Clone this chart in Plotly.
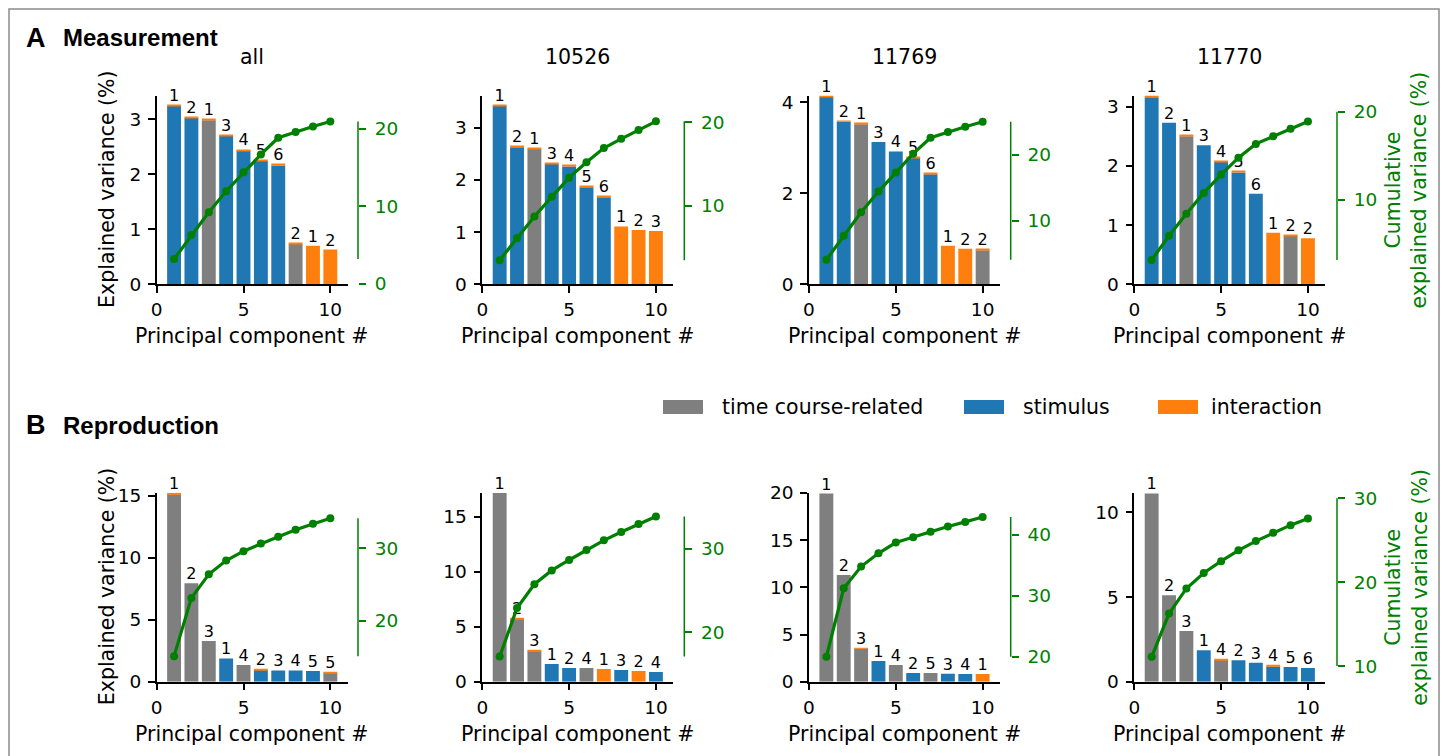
import plotly.graph_objects as go

# ---------------- data ----------------
pcs = [1, 2, 3, 4, 5, 6, 7, 8, 9, 10]
panel_titles = ["all", "10526", "11769", "11770", "", "", "", ""]
x_ticks = [0, 5, 10]

# Row A: Measurement
a_all_var = [3.26, 3.04, 3.00, 2.72, 2.45, 2.26, 2.18, 0.75, 0.70, 0.63]
a_all_kind = ["s", "s", "t", "s", "s", "s", "s", "t", "i", "i"]
a_all_lab = ["1", "2", "1", "3", "4", "5", "6", "2", "1", "2"]
a_all_top = [1, 1, 1, 1, 1, 1, 1, 1, 0, 0]
a_all_cum = [3.2, 6.3, 9.25, 11.95, 14.4, 16.7, 18.85, 19.6, 20.3, 20.95]

a_10526_var = [3.44, 2.65, 2.62, 2.33, 2.28, 1.88, 1.69, 1.11, 1.04, 1.02]
a_10526_kind = ["s", "s", "t", "s", "s", "s", "s", "i", "i", "i"]
a_10526_lab = ["1", "2", "1", "3", "4", "5", "6", "1", "2", "3"]
a_10526_top = [1, 1, 1, 1, 1, 1, 1, 0, 0, 0]
a_10526_cum = [3.45, 6.1, 8.7, 11.05, 13.35, 15.2, 16.9, 18.0, 19.05, 20.1]

a_11769_var = [4.14, 3.60, 3.54, 3.13, 2.92, 2.80, 2.44, 0.85, 0.78, 0.77]
a_11769_kind = ["s", "s", "t", "s", "s", "s", "s", "i", "i", "t"]
a_11769_lab = ["1", "2", "1", "3", "4", "5", "6", "1", "2", "2"]
a_11769_top = [1, 1, 1, 0, 0, 1, 1, 0, 0, 1]
a_11769_cum = [4.05, 7.7, 11.25, 14.4, 17.3, 20.15, 22.57, 23.45, 24.25, 25.0]

a_11770_var = [3.18, 2.73, 2.52, 2.35, 2.09, 1.91, 1.53, 0.87, 0.84, 0.78]
a_11770_kind = ["s", "s", "t", "s", "s", "s", "s", "i", "t", "i"]
a_11770_lab = ["1", "2", "1", "3", "4", "5", "6", "1", "2", "2"]
a_11770_top = [1, 0, 1, 0, 1, 1, 0, 0, 1, 0]
a_11770_cum = [3.2, 5.95, 8.45, 10.8, 12.87, 14.79, 16.35, 17.22, 18.07, 18.88]

# Row B: Reproduction
b_all_var = [15.2, 7.93, 3.28, 1.88, 1.34, 1.02, 0.91, 0.91, 0.86, 0.78]
b_all_kind = ["t", "t", "t", "s", "t", "s", "s", "s", "s", "t"]
b_all_lab = ["1", "2", "3", "1", "4", "2", "3", "4", "5", "5"]
b_all_top = [1, 0, 0, 0, 0, 1, 0, 0, 0, 1]
b_all_cum = [15.1, 23.15, 26.4, 28.3, 29.6, 30.65, 31.6, 32.55, 33.4, 34.15]

b_10526_var = [17.15, 5.79, 2.88, 1.61, 1.24, 1.24, 1.15, 1.06, 0.97, 0.88]
b_10526_kind = ["t", "t", "t", "s", "s", "t", "i", "s", "i", "s"]
b_10526_lab = ["1", "2", "3", "1", "2", "4", "1", "3", "2", "4"]
b_10526_top = [0, 1, 1, 0, 0, 0, 0, 0, 0, 0]
b_10526_cum = [17.1, 22.9, 25.75, 27.4, 28.65, 29.85, 31.0, 32.0, 32.95, 33.85]

b_11769_var = [19.93, 11.29, 3.60, 2.19, 1.76, 0.92, 0.92, 0.85, 0.81, 0.81]
b_11769_kind = ["t", "t", "t", "s", "t", "s", "t", "s", "s", "i"]
b_11769_lab = ["1", "2", "3", "1", "4", "2", "5", "3", "4", "1"]
b_11769_top = [0, 0, 1, 0, 0, 0, 0, 0, 0, 0]
b_11769_cum = [20.0, 31.25, 34.82, 37.0, 38.76, 39.65, 40.55, 41.4, 42.15, 42.95]

b_11770_var = [11.12, 5.10, 2.99, 1.85, 1.36, 1.26, 1.12, 0.98, 0.87, 0.81]
b_11770_kind = ["t", "t", "t", "s", "t", "s", "s", "s", "s", "s"]
b_11770_lab = ["1", "2", "3", "1", "4", "2", "3", "4", "5", "6"]
b_11770_top = [0, 0, 0, 0, 1, 0, 0, 1, 0, 0]
b_11770_cum = [11.1, 16.25, 19.25, 21.1, 22.5, 23.8, 24.9, 25.9, 26.8, 27.6]

legend_names = ["time course-related", "stimulus", "interaction"]

# ---------------- layout helpers ----------------
W, H = 1448, 756
OX, OY = 8, 8   # page body margin offset


def px(x):
    return (x - OX) / W


def py(y):
    return 1 - (y - OY) / H


COL = {"t": "#7f7f7f", "s": "#1f77b4", "i": "#ff7f0e"}
GREEN = "#008000"
FONT = "DejaVu Sans"
TICK_SIZE = 18.5
LABEL_SIZE = 20.5

col_left = [156.7, 482.3, 809.0, 1134.3]
col_w = 191.0
row_top = [95.5, 492.7]
row_bot = [284.3, 681.7]
spine_x = [358.0, 684.3, 1010.7, 1337.0]
top_thick = [0.02, 0.08]

left_range = [3.43, 3.62, 4.15, 3.19, 15.24, 17.18, 20.02, 11.16]
left_dtick = [1, 1, 2, 1, 5, 5, 5, 5]
right_range = [(-0.05, 24.3), (0.56, 23.2), (0.32, 28.98), (0.45, 21.83),
               (11.57, 37.68), (14.09, 36.7), (15.9, 46.95), (8.13, 30.67)]
spine_bounds = [(3.2, 20.95), (3.45, 20.1), (4.05, 25.0), (3.2, 20.0),
                (15.1, 34.15), (17.1, 33.85), (20.0, 42.95), (10.0, 30.0)]

panels = [
    (a_all_var, a_all_kind, a_all_lab, a_all_top, a_all_cum),
    (a_10526_var, a_10526_kind, a_10526_lab, a_10526_top, a_10526_cum),
    (a_11769_var, a_11769_kind, a_11769_lab, a_11769_top, a_11769_cum),
    (a_11770_var, a_11770_kind, a_11770_lab, a_11770_top, a_11770_cum),
    (b_all_var, b_all_kind, b_all_lab, b_all_top, b_all_cum),
    (b_10526_var, b_10526_kind, b_10526_lab, b_10526_top, b_10526_cum),
    (b_11769_var, b_11769_kind, b_11769_lab, b_11769_top, b_11769_cum),
    (b_11770_var, b_11770_kind, b_11770_lab, b_11770_top, b_11770_cum),
]

fig = go.Figure()
layout = {}
shapes = []
annotations = []


def axname(prefix, n):
    return prefix if n == 1 else f"{prefix}{n}"


for i, (var, kind, lab, top, cum) in enumerate(panels):
    r, c = divmod(i, 4)
    xn, yln, yrn = i + 1, 2 * i + 1, 2 * i + 2
    xa, yla, yra = f"x{xn}", f"y{yln}", f"y{yrn}"
    th = top_thick[r]
    main_h = [v - th * t for v, t in zip(var, top)]
    fig.add_trace(go.Bar(x=pcs, y=main_h, width=0.8,
                         marker=dict(color=[COL[k] for k in kind], line=dict(width=0)),
                         xaxis=xa, yaxis=yla, showlegend=False, hoverinfo="skip"))
    tx = [p for p, t in zip(pcs, top) if t]
    tb = [v - th for v, t in zip(var, top) if t]
    fig.add_trace(go.Bar(x=tx, y=[th] * len(tx), base=tb, width=0.8,
                         marker=dict(color=COL["i"], line=dict(width=0)),
                         xaxis=xa, yaxis=yla, showlegend=False, hoverinfo="skip"))
    fig.add_trace(go.Scatter(x=pcs, y=var, text=lab, mode="text",
                             textposition="top center",
                             textfont=dict(family=FONT, size=16, color="black"),
                             cliponaxis=False, xaxis=xa, yaxis=yla,
                             showlegend=False, hoverinfo="skip"))
    fig.add_trace(go.Scatter(x=pcs, y=cum, mode="lines+markers",
                             line=dict(color=GREEN, width=3.2),
                             marker=dict(color=GREEN, size=8),
                             cliponaxis=False,
                             xaxis=xa, yaxis=yra, showlegend=False, hoverinfo="skip"))

    xdom = [px(col_left[c]), px(col_left[c] + col_w)]
    ydom = [py(row_bot[r]), py(row_top[r])]
    layout[axname("xaxis", xn)] = dict(
        domain=xdom, range=[0, 11], anchor=yla, showline=True, linecolor="black",
        linewidth=1.5, ticks="outside", ticklen=7, tickwidth=1.5, tickcolor="black",
        tickvals=x_ticks, tickfont=dict(family=FONT, size=TICK_SIZE, color="black"),
        showgrid=False, zeroline=False, ticklabelstandoff=1)
    layout[axname("yaxis", yln)] = dict(
        domain=ydom, range=[0, left_range[i]], anchor=xa, showline=True,
        linecolor="black", linewidth=1.5, ticks="outside", ticklen=7, tickwidth=1.5,
        tickcolor="black", tick0=0, dtick=left_dtick[i],
        tickfont=dict(family=FONT, size=TICK_SIZE, color="black"),
        showgrid=False, zeroline=False, ticklabelstandoff=3)
    layout[axname("yaxis", yrn)] = dict(
        overlaying=yla, side="right", anchor="free", position=px(spine_x[c]),
        range=list(right_range[i]), showline=False, ticks="outside", ticklen=7,
        tickwidth=1.5, tickcolor=GREEN, tick0=0, dtick=10,
        tickfont=dict(family=FONT, size=TICK_SIZE, color=GREEN),
        showgrid=False, zeroline=False, ticklabelstandoff=5)
    shapes.append(dict(type="line", xref="paper", yref=yra,
                       x0=px(spine_x[c]), x1=px(spine_x[c]),
                       y0=spine_bounds[i][0], y1=spine_bounds[i][1],
                       line=dict(color=GREEN, width=1.5)))
    xc = px(col_left[c] + col_w / 2)
    annotations.append(dict(text="Principal component #", xref="paper", yref="paper",
                            x=xc, y=py(row_bot[r] + 52), showarrow=False,
                            font=dict(family=FONT, size=LABEL_SIZE, color="black"),
                            xanchor="center", yanchor="middle"))
    if panel_titles[i]:
        annotations.append(dict(text=panel_titles[i], xref="paper", yref="paper",
                                x=xc, y=py(57), showarrow=False,
                                font=dict(family=FONT, size=LABEL_SIZE, color="black"),
                                xanchor="center", yanchor="middle"))

for r in range(2):
    yc = py((row_top[r] + row_bot[r]) / 2)
    annotations.append(dict(text="Explained variance (%)", xref="paper", yref="paper",
                            x=px(107), y=yc, textangle=-90, showarrow=False,
                            font=dict(family=FONT, size=LABEL_SIZE, color="black"),
                            xanchor="center", yanchor="middle"))
    annotations.append(dict(text="Cumulative<br>explained variance (%)", xref="paper",
                            yref="paper", x=px(1406.5), y=yc, textangle=-90,
                            showarrow=False,
                            font=dict(family=FONT, size=LABEL_SIZE, color=GREEN),
                            xanchor="center", yanchor="middle"))

# panel headings
for letter, name, yy in [("A", "Measurement", 38), ("B", "Reproduction", 425)]:
    annotations.append(dict(text=f"<b>{letter}</b>", xref="paper", yref="paper",
                            x=px(24), y=py(yy), showarrow=False, xanchor="left",
                            yanchor="middle",
                            font=dict(family="Liberation Sans", size=27, color="black")))
    annotations.append(dict(text=f"<b>{name}</b>", xref="paper", yref="paper",
                            x=px(61), y=py(yy), showarrow=False, xanchor="left",
                            yanchor="middle",
                            font=dict(family="Liberation Sans", size=24, color="black")))

# legend
leg_box_x = [663, 964, 1158]
leg_text_x = [720, 1021, 1209]
leg_cols = [COL["t"], COL["s"], COL["i"]]
for bx, tx, col, name in zip(leg_box_x, leg_text_x, leg_cols, legend_names):
    shapes.append(dict(type="rect", xref="paper", yref="paper",
                       x0=px(bx), x1=px(bx + 40), y0=py(414), y1=py(400),
                       fillcolor=col, line=dict(width=0)))
    annotations.append(dict(text=name, xref="paper", yref="paper", x=px(tx), y=py(407),
                            showarrow=False, xanchor="left", yanchor="middle",
                            font=dict(family=FONT, size=LABEL_SIZE, color="black")))

# outer frame (bottom edge lies below the visible window)
shapes.append(dict(type="rect", xref="paper", yref="paper",
                   x0=px(9), x1=px(1439), y0=py(762), y1=py(9),
                   line=dict(color="#8c8c8c", width=1.5), fillcolor="rgba(0,0,0,0)"))

fig.update_layout(
    width=W, height=H, margin=dict(l=0, r=0, t=0, b=0, autoexpand=False),
    paper_bgcolor="white", plot_bgcolor="white", barmode="overlay",
    showlegend=False, shapes=shapes, annotations=annotations,
    font=dict(family=FONT, color="black"), **layout)

fig.write_html("out.html")
